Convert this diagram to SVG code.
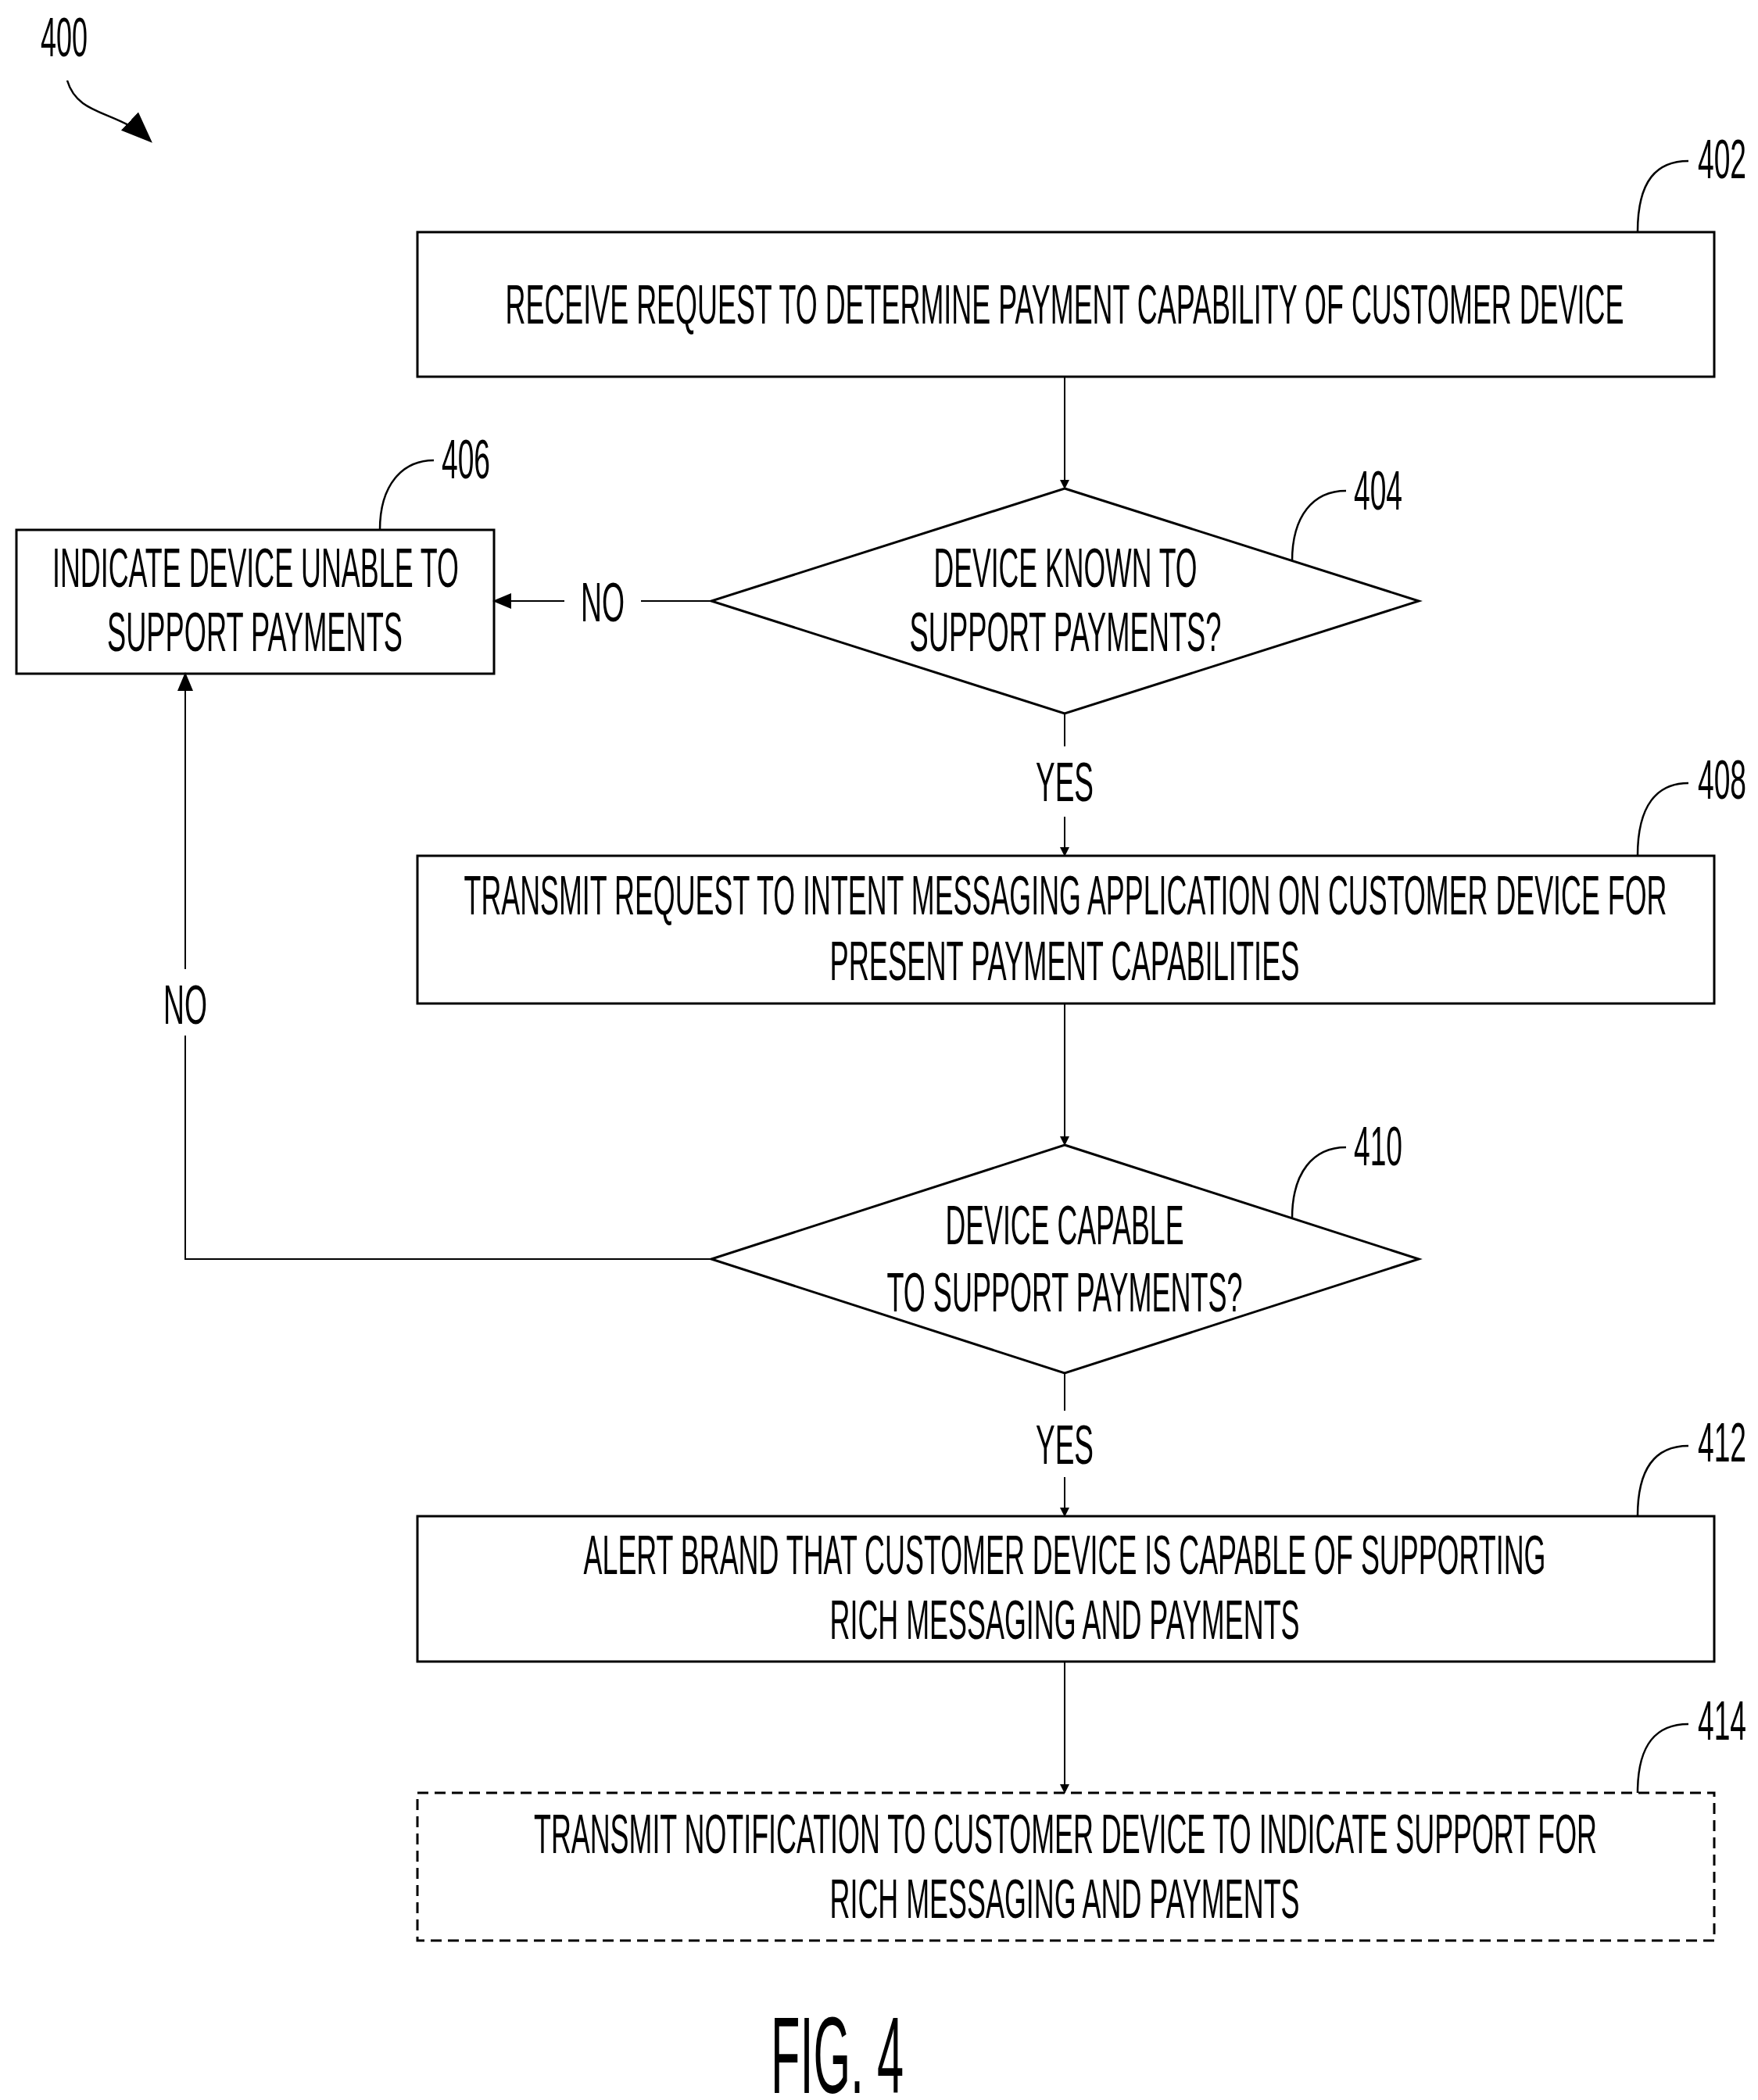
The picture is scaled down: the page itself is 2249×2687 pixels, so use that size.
<svg xmlns="http://www.w3.org/2000/svg" width="2249" height="2687" viewBox="0 0 2249 2687">
<style>
.b{fill:none;stroke:#000;stroke-width:3}
.d{stroke-dasharray:14 8}
.t{font-family:"Liberation Sans",Arial,sans-serif;font-size:70px;fill:#000;text-anchor:middle}
.l{fill:none;stroke:#000;stroke-width:2.5}
.c{fill:none;stroke:#000;stroke-width:2}
</style>
<defs><marker id="a" markerWidth="12" markerHeight="12" refX="11" refY="6" orient="auto" markerUnits="userSpaceOnUse"><path d="M0,0 L12,6 L0,12 z" fill="#000"/></marker>
<marker id="a2" markerWidth="24" markerHeight="24" refX="22" refY="12" orient="auto" markerUnits="userSpaceOnUse"><path d="M0,2 L24,12 L0,22 z" fill="#000"/></marker>
<marker id="a3" markerWidth="40" markerHeight="40" refX="36" refY="20" orient="auto" markerUnits="userSpaceOnUse"><path d="M0,4 L40,20 L0,36 z" fill="#000"/></marker></defs>
<g id="ref400"><text class="t" x="82" y="72" textLength="60" lengthAdjust="spacingAndGlyphs">400</text>
<path class="l" d="M86,103 C100,150 150,140 192,180" marker-end="url(#a3)"/></g>
<g id="n402"><rect class="b" x="534" y="297" width="1659" height="185"/>
<text class="t" x="1362" y="414" textLength="1431" lengthAdjust="spacingAndGlyphs">RECEIVE REQUEST TO DETERMINE PAYMENT CAPABILITY OF CUSTOMER DEVICE</text>
<path class="l" d="M2095,297 C2095,230 2120,206 2160,206"/><text class="t" x="2203" y="228" textLength="62" lengthAdjust="spacingAndGlyphs">402</text></g>
<g id="n404"><polygon class="b" points="1362,625 1815,769 1362,913 910,769"/>
<text class="t" x="1363" y="751" textLength="337" lengthAdjust="spacingAndGlyphs">DEVICE KNOWN TO</text>
<text class="t" x="1363" y="833" textLength="399" lengthAdjust="spacingAndGlyphs">SUPPORT PAYMENTS?</text>
<path class="l" d="M1653,718 C1653,660 1680,628 1722,628"/><text class="t" x="1763" y="652" textLength="62" lengthAdjust="spacingAndGlyphs">404</text></g>
<g id="n406"><rect class="b" x="21" y="678" width="611" height="184"/>
<text class="t" x="327" y="751" textLength="520" lengthAdjust="spacingAndGlyphs">INDICATE DEVICE UNABLE TO</text>
<text class="t" x="326" y="833" textLength="378" lengthAdjust="spacingAndGlyphs">SUPPORT PAYMENTS</text>
<path class="l" d="M486,678 C486,620 515,589 555,589"/><text class="t" x="596" y="612" textLength="62" lengthAdjust="spacingAndGlyphs">406</text></g>
<g id="n408"><rect class="b" x="534" y="1095" width="1659" height="189"/>
<text class="t" x="1363" y="1170" textLength="1539" lengthAdjust="spacingAndGlyphs">TRANSMIT REQUEST TO INTENT MESSAGING APPLICATION ON CUSTOMER DEVICE FOR</text>
<text class="t" x="1362" y="1254" textLength="601" lengthAdjust="spacingAndGlyphs">PRESENT PAYMENT CAPABILITIES</text>
<path class="l" d="M2095,1095 C2095,1030 2120,1002 2160,1002"/><text class="t" x="2203" y="1022" textLength="62" lengthAdjust="spacingAndGlyphs">408</text></g>
<g id="n410"><polygon class="b" points="1362,1465 1815,1611 1362,1757 910,1611"/>
<text class="t" x="1362" y="1592" textLength="305" lengthAdjust="spacingAndGlyphs">DEVICE CAPABLE</text>
<text class="t" x="1362" y="1678" textLength="455" lengthAdjust="spacingAndGlyphs">TO SUPPORT PAYMENTS?</text>
<path class="l" d="M1653,1559 C1653,1500 1680,1468 1722,1468"/><text class="t" x="1763" y="1491" textLength="62" lengthAdjust="spacingAndGlyphs">410</text></g>
<g id="n412"><rect class="b" x="534" y="1940" width="1659" height="186"/>
<text class="t" x="1362" y="2014" textLength="1231" lengthAdjust="spacingAndGlyphs">ALERT BRAND THAT CUSTOMER DEVICE IS CAPABLE OF SUPPORTING</text>
<text class="t" x="1362" y="2097" textLength="601" lengthAdjust="spacingAndGlyphs">RICH MESSAGING AND PAYMENTS</text>
<path class="l" d="M2095,1940 C2095,1875 2120,1850 2160,1850"/><text class="t" x="2203" y="1870" textLength="62" lengthAdjust="spacingAndGlyphs">412</text></g>
<g id="n414"><rect class="b d" x="534" y="2294" width="1659" height="189"/>
<text class="t" x="1363" y="2371" textLength="1360" lengthAdjust="spacingAndGlyphs">TRANSMIT NOTIFICATION TO CUSTOMER DEVICE TO INDICATE SUPPORT FOR</text>
<text class="t" x="1362" y="2454" textLength="601" lengthAdjust="spacingAndGlyphs">RICH MESSAGING AND PAYMENTS</text>
<path class="l" d="M2095,2294 C2095,2230 2120,2206 2160,2206"/><text class="t" x="2203" y="2226" textLength="62" lengthAdjust="spacingAndGlyphs">414</text></g>
<g id="connectors">
<line class="c" x1="1362" y1="482" x2="1362" y2="625" marker-end="url(#a)"/>
<line class="c" x1="910" y1="769" x2="820" y2="769"/>
<line class="c" x1="722" y1="769" x2="632" y2="769" marker-end="url(#a2)"/>
<text class="t" x="771" y="795" textLength="56" lengthAdjust="spacingAndGlyphs">NO</text>
<line class="c" x1="1362" y1="913" x2="1362" y2="955"/>
<text class="t" x="1362" y="1025" textLength="74" lengthAdjust="spacingAndGlyphs">YES</text>
<line class="c" x1="1362" y1="1045" x2="1362" y2="1095" marker-end="url(#a)"/>
<line class="c" x1="1362" y1="1284" x2="1362" y2="1465" marker-end="url(#a)"/>
<polyline class="c" points="910,1611 237,1611 237,1325"/>
<line class="c" x1="237" y1="1240" x2="237" y2="862" marker-end="url(#a2)"/>
<text class="t" x="237" y="1310" textLength="56" lengthAdjust="spacingAndGlyphs">NO</text>
<line class="c" x1="1362" y1="1757" x2="1362" y2="1805"/>
<text class="t" x="1362" y="1873" textLength="74" lengthAdjust="spacingAndGlyphs">YES</text>
<line class="c" x1="1362" y1="1890" x2="1362" y2="1940" marker-end="url(#a)"/>
<line class="c" x1="1362" y1="2126" x2="1362" y2="2294" marker-end="url(#a)"/>
</g>
<text class="t" x="1071" y="2678" style="font-size:140px" textLength="170" lengthAdjust="spacingAndGlyphs">FIG. 4</text>
</svg>
